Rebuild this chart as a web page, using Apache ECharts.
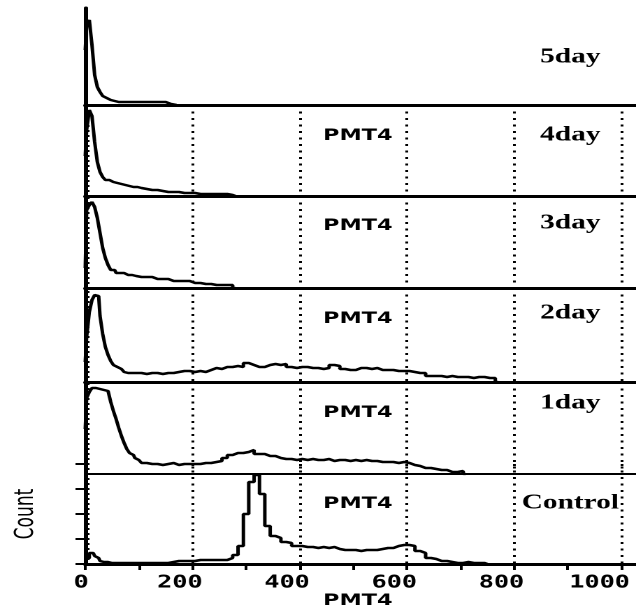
<!DOCTYPE html>
<html>
<head>
<meta charset="utf-8">
<script src="https://cdn.jsdelivr.net/npm/echarts@6/dist/echarts.min.js"></script>
<style>
    html, body {
        margin: 0;
        padding: 0;
        background: #fff;
        overflow: hidden;
    }
    /* the scanned figure is stretched sideways, so draw it narrow and widen it */
    #chart {
        width: 455px;
        height: 606px;
        transform: scaleX(1.3978);
        transform-origin: 0 0;
    }
</style>
</head>
<body>
<div id="chart"></div>
<script>
    // PMT4 channel (bin centre) shared by all histograms
    var pmt = [0, 5, 10, 15, 20, 25, 30, 35, 40, 45, 50, 55, 60, 65, 70, 75, 80, 85, 90, 95, 100,
        110, 120, 130, 140, 150, 160, 170, 180, 190, 200, 210, 220, 230, 240, 250, 260, 270, 280, 290, 300,
        310, 320, 330, 340, 350, 360, 370, 380, 390, 400, 410, 420, 430, 440, 450, 460, 470, 480, 490, 500,
        510, 520, 530, 540, 550, 560, 570, 580, 590, 600, 610, 620, 630, 640, 650, 660, 670, 680, 690, 700,
        710, 720, 730, 740, 750, 760, 770, 780, 790, 800];

    // counts (relative units)
    var day5 = [55, 80, 85, 60, 30, 18, 13, 9, 7, 5, 5, 4, 3, 3, 3, 3, 3, 3, 3, 3, 3,
        3, 3, 3, 3, 3, 1, 0];
    var day4 = [40, 66, 86, 80, 54, 34, 24, 19, 16, 16, 14, 14, 13, 12, 11, 11, 10, 10, 9, 9, 8,
        7, 6, 6, 5, 4, 4, 4, 3, 3, 3, 2, 2, 2, 2, 2, 2, 1, 0];
    var day3 = [20, 78, 83, 86, 81, 70, 55, 40, 30, 23, 18, 18, 15, 15, 15, 15, 13, 13, 13, 12, 11,
        11, 11, 9, 9, 9, 7, 7, 7, 7, 5, 5, 4, 4, 3, 3, 3, 3, 0];
    var day2 = [20, 45, 70, 82, 87, 86, 66, 48, 35, 27, 21, 17, 15, 13, 11, 10, 9, 9, 8, 9, 9,
        8, 9, 9, 8, 9, 9, 10, 11, 11, 10, 11, 10, 12, 14, 13, 15, 15, 16, 15, 19,
        17, 15, 15, 17, 18, 17, 18, 15, 14, 15, 15, 14, 14, 13, 14, 17, 16, 13, 12, 12,
        14, 14, 13, 14, 12, 12, 12, 11, 11, 11, 10, 9, 9, 6, 6, 6, 5, 6, 5, 5,
        5, 4, 5, 5, 4, 4, 0];
    var day1 = [45, 76, 82, 86, 86, 85, 85, 84, 83, 81, 72, 63, 55, 46, 38, 31, 25, 21, 19, 16, 14,
        11, 10, 10, 9, 10, 11, 9, 10, 10, 10, 10, 11, 11, 12, 13, 16, 19, 21, 21, 22,
        24, 20, 20, 18, 18, 16, 15, 15, 14, 15, 14, 15, 14, 14, 15, 13, 14, 14, 13, 14,
        13, 14, 13, 13, 12, 12, 12, 11, 12, 11, 9, 8, 6, 6, 5, 4, 4, 2, 2, 3,
        0];
    var control = [4, 6, 11, 11, 8, 6, 3, 2, 2, 1, 1, 1, 1, 1, 1, 1, 1, 1, 1, 1, 1,
        1, 1, 1, 1, 1, 2, 3, 3, 3, 3, 4, 4, 4, 4, 4, 4, 6, 9, 18, 50,
        82, 89, 70, 38, 28, 26, 22, 21, 18, 18, 17, 17, 16, 17, 16, 17, 15, 14, 14, 14,
        13, 14, 14, 14, 15, 16, 16, 18, 19, 19, 18, 13, 11, 6, 5, 3, 3, 2, 1, 1,
        2, 1, 1, 1, 0];

    var panels = ['5day', '4day', '3day', '2day', '1day', 'Control'];
    var counts = [day5, day4, day3, day2, day1, control];

    // layout of the stacked panels (pixels)
    var tops = [8, 105, 196, 288, 382, 464];
    var bottoms = [105, 196, 288, 382, 474, 564];
    var dayY = [57, 135, 223, 313, 403, 503];
    var pmtY = [136, 226, 319, 413, 504];

    var numFont = {fontFamily: 'DejaVu Sans Mono', fontWeight: 'bold', fontSize: 18, color: '#000'};

    var grid = [], xAxis = [], yAxis = [], series = [], graphic = [];
    for (var i = 0; i < panels.length; i++) {
        var last = i === panels.length - 1;
        grid.push({
            left: 61,
            right: -14,
            top: tops[i],
            height: bottoms[i] - tops[i],
            outerBoundsMode: 'none',
            containLabel: false
        });
        xAxis.push({
            type: 'value',
            gridIndex: i,
            min: 0,
            max: 1064,
            interval: 200,
            axisLine: {show: true, onZero: false, lineStyle: {color: '#000', width: i === 4 ? 2 : 3}},
            axisTick: {show: last, length: 6, lineStyle: {color: '#000', width: 2}},
            minorTick: {show: last, splitNumber: 2, length: 6, lineStyle: {color: '#000', width: 2}},
            axisLabel: {
                show: last,
                margin: 10,
                showMaxLabel: false,
                formatter: function (v) {
                    if (v % 200 !== 0 || v > 1000) return '';
                    if (v === 0) return '{z|0}';
                    if (v === 1000) return '{e|1000}';
                    return '{n|' + v + '}';
                },
                rich: {
                    z: Object.assign({padding: [0, 6, 0, 0]}, numFont),
                    n: Object.assign({padding: [0, 18, 0, 0]}, numFont),
                    e: Object.assign({padding: [0, 31, 0, 0]}, numFont)
                }
            },
            splitLine: {show: i > 0, lineStyle: {color: '#000', width: 2, type: [2, 4.5]}},
            name: last ? 'PMT4' : '',
            nameLocation: 'middle',
            nameGap: 24,
            nameTextStyle: {fontFamily: 'DejaVu Sans', fontWeight: 'bold', fontSize: 16, color: '#000', padding: [0, 18, 0, 0]}
        });
        yAxis.push({
            type: 'value',
            gridIndex: i,
            min: 0,
            max: bottoms[i] - tops[i],
            interval: last ? 25 : 5,
            axisLine: {show: true, lineStyle: {color: '#000', width: 3}},
            axisTick: {show: i > 0, inside: !last, length: last ? 7 : 3, lineStyle: {color: '#000', width: 2}},
            axisLabel: {show: false},
            splitLine: {show: false},
            name: last ? 'Count' : '',
            nameLocation: 'middle',
            nameRotate: 90,
            nameGap: 33,
            nameTextStyle: {fontFamily: '"Liberation Sans Narrow", "DejaVu Sans Condensed", sans-serif', fontSize: 19, color: '#000'}
        });
        series.push({
            name: panels[i],
            type: 'line',
            xAxisIndex: i,
            yAxisIndex: i,
            step: 'middle',
            symbol: 'none',
            silent: true,
            itemStyle: {color: '#000'},
            lineStyle: {color: '#000', width: 2.5},
            data: counts[i].map(function (c, k) { return [pmt[k], c]; })
        });
        graphic.push({
            type: 'text',
            x: 408,
            y: dayY[i],
            style: {
                text: panels[i],
                fontFamily: 'Liberation Serif',
                fontWeight: 'bold',
                fontSize: 21,
                fill: '#000',
                align: 'center',
                verticalAlign: 'middle',
                textAlign: 'center',
                textVerticalAlign: 'middle'
            }
        });
        if (i > 0) {
            graphic.push({
                type: 'text',
                x: 256,
                y: pmtY[i - 1],
                style: {
                    text: 'PMT4',
                    fontFamily: 'DejaVu Sans',
                    fontWeight: 'bold',
                    fontSize: 16,
                    fill: '#000',
                    align: 'center',
                    verticalAlign: 'middle',
                    textAlign: 'center',
                    textVerticalAlign: 'middle'
                }
            });
        }
    }
    // inner minor ticks of the Control count axis
    yAxis.push({
        type: 'value',
        gridIndex: 5,
        position: 'left',
        offset: 0,
        min: 0,
        max: 100,
        interval: 5,
        axisLine: {show: false},
        axisTick: {show: true, inside: true, length: 3, lineStyle: {color: '#000', width: 2}},
        axisLabel: {show: false},
        splitLine: {show: false}
    });

    var myChart = echarts.init(document.getElementById('chart'), null, {devicePixelRatio: 2});
    myChart.setOption({
        backgroundColor: '#fff',
        animation: false,
        grid: grid,
        xAxis: xAxis,
        yAxis: yAxis,
        series: series,
        graphic: graphic
    });
</script>
</body>
</html>
